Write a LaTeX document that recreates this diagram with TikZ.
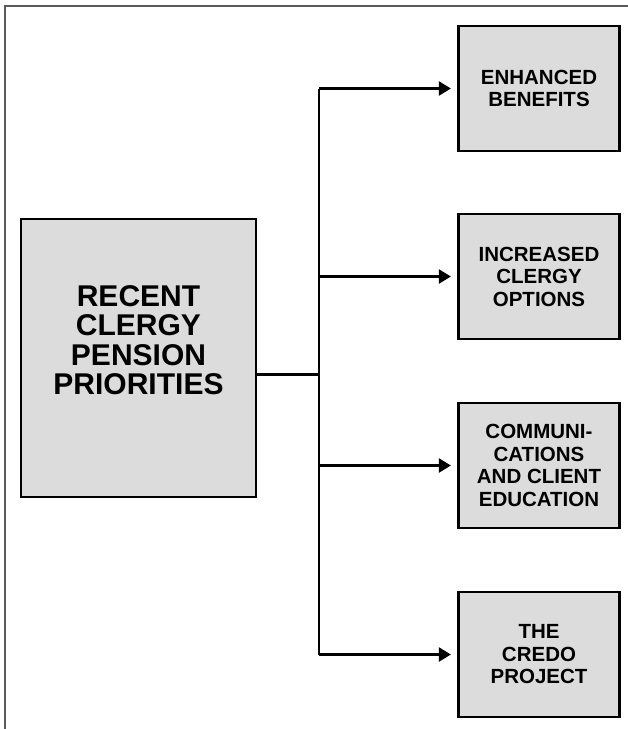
\documentclass[tikz,border=0pt]{standalone}
\usepackage{fontspec}
\setmainfont{Liberation Sans}
\usepackage{xcolor}
\usetikzlibrary{arrows.meta,positioning,calc}
\definecolor{boxgray}{RGB}{220,220,220}
\definecolor{framegray}{RGB}{90,90,90}

\begin{document}
\begin{tikzpicture}[x=1pt,y=-1pt,
  gbox/.style={draw=black,fill=boxgray,line width=2.2pt,inner sep=0pt},
  mainbox/.style={gbox,minimum width=235pt,minimum height=278pt},
  prio/.style={gbox,minimum width=161pt,minimum height=125pt,align=center,
               font=\fontsize{20.5}{22.5}\selectfont\bfseries},
  link/.style={line width=2.2pt},
  arr/.style={link,-{Triangle[length=12pt,width=14pt]},shorten >=6.5pt}]
  \useasboundingbox (0,0) rectangle (628,729);
  % frame
  \draw[framegray,line width=1.6pt] (5,729) -- (5,6) -- (628,6);
  % main box
  \node[mainbox] (main) at (138.5,358) {};
  \node[align=center,font=\fontsize{30}{29.5}\selectfont\bfseries] (mainlabel) at (138.5,340)
       {RECENT\\CLERGY\\PENSION\\PRIORITIES};
  % priorities
  \node[prio] (p1) at (539,88.5)  {ENHANCED\\BENEFITS};
  \node[prio] (p2) at (539,276.5) {INCREASED\\CLERGY\\OPTIONS};
  \node[prio] (p3) at (539,465.5) {COMMUNI-\\CATIONS\\AND CLIENT\\EDUCATION};
  \node[prio] (p4) at (539,654.5) {THE\\CREDO\\PROJECT};
  % connectors
  \coordinate (j) at (319,374.5);
  \draw[link] (main.east |- j) -- (j);
  \draw[link] (j |- p1) -- (j |- p4);
  \foreach \p in {p1,p2,p3,p4}{\draw[arr] (j |- \p) -- (\p.west);}
\end{tikzpicture}
\end{document}
